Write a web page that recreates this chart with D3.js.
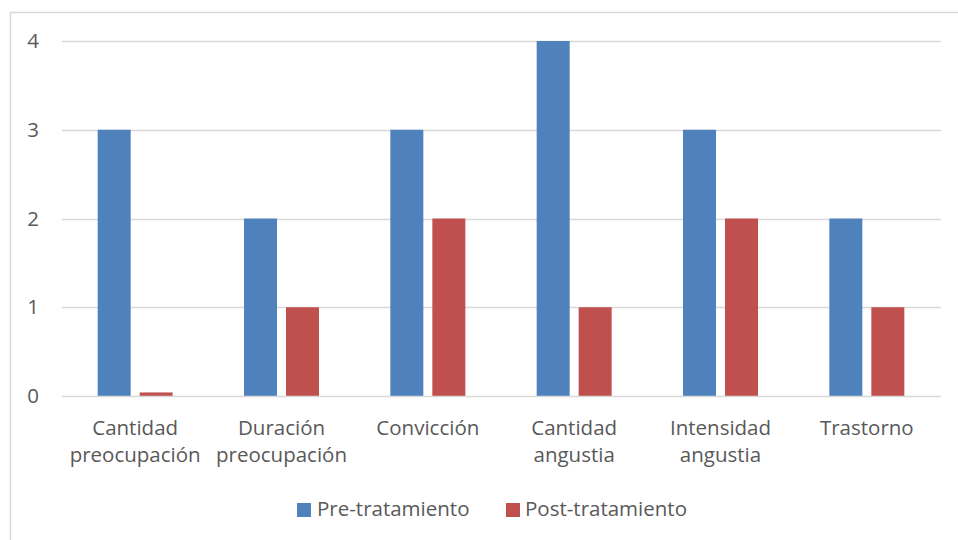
<!DOCTYPE html>
<html>
<head>
<meta charset="utf-8">
<script src="https://cdn.jsdelivr.net/npm/d3@7"></script>
<style>
  html, body { margin: 0; padding: 0; background: #fff; }
  svg { display: block; }
  text { font-family: "Open Sans", "Liberation Sans", sans-serif; fill: #595959; }
</style>
</head>
<body>
<svg id="chart" width="958" height="540"></svg>
<script>
const categories = [
  ["Cantidad", "preocupación"],
  ["Duración", "preocupación"],
  ["Convicción"],
  ["Cantidad", "angustia"],
  ["Intensidad", "angustia"],
  ["Trastorno"]
];
const seriesNames = ["Pre-tratamiento", "Post-tratamiento"];
const preValues = [3, 2, 3, 4, 3, 2];
const postValues = [0.04, 1, 2, 1, 2, 1];
const yTicks = [0, 1, 2, 3, 4];
const colors = ["#4f81bd", "#c0504d"];

const svg = d3.select("#chart");
const W = 958, H = 540;
const plot = { left: 62, right: 940, top: 41, bottom: 396 };

// chart frame
svg.append("rect")
  .attr("x", 10.5).attr("y", 12.5)
  .attr("width", W + 20).attr("height", H + 20)
  .attr("fill", "none").attr("stroke", "#d9d9d9").attr("stroke-width", 1.5);

const keys = categories.map((c, i) => "c" + i);
const x0 = d3.scaleBand().domain(keys).range([plot.left, plot.right]).padding(0);
const bw = x0.bandwidth();
const groupW = 75;
const x1 = d3.scaleBand().domain(seriesNames)
  .range([bw / 2 - groupW / 2, bw / 2 + groupW / 2])
  .paddingInner(0.214).paddingOuter(0);
const y = d3.scaleLinear().domain([0, 4]).range([plot.bottom, plot.top]);

// gridlines
svg.append("g").selectAll("line").data(yTicks.filter(d => d > 0)).join("line")
  .attr("x1", plot.left).attr("x2", plot.right + 1)
  .attr("y1", d => Math.round(y(d)) + 0.5).attr("y2", d => Math.round(y(d)) + 0.5)
  .attr("stroke", "#d9d9d9").attr("stroke-width", 1.3);

// bars
const rows = keys.map((k, i) => ({ key: k, vals: [preValues[i], postValues[i]] }));
const groups = svg.append("g").selectAll("g").data(rows).join("g")
  .attr("transform", d => `translate(${x0(d.key)},0)`);
groups.selectAll("rect").data(d => d.vals.map((v, j) => ({ s: seriesNames[j], v, j })))
  .join("rect")
  .attr("x", d => x1(d.s))
  .attr("width", x1.bandwidth())
  .attr("y", d => y(d.v))
  .attr("height", d => y(0) - y(d.v))
  .attr("fill", d => colors[d.j]);

// baseline
svg.append("line")
  .attr("x1", plot.left).attr("x2", plot.right + 1)
  .attr("y1", Math.round(y(0)) + 0.5).attr("y2", Math.round(y(0)) + 0.5)
  .attr("stroke", "#d9d9d9").attr("stroke-width", 1.5);

// y axis labels
svg.append("g").selectAll("text").data(yTicks).join("text")
  .attr("x", 39).attr("y", d => y(d))
  .attr("dy", "0.35em")
  .attr("text-anchor", "end")
  .attr("font-size", 20.5)
  .text(d => d);

// category labels
const catG = svg.append("g").selectAll("text").data(rows).join("text")
  .attr("text-anchor", "middle")
  .attr("font-size", 20.5)
  .attr("x", d => x0(d.key) + bw / 2)
  .attr("y", 435);
catG.selectAll("tspan").data((d, i) => categories[i]).join("tspan")
  .attr("x", function () { return d3.select(this.parentNode).attr("x"); })
  .attr("dy", (d, i) => i === 0 ? 0 : 27)
  .text(d => d);

// legend
const legendItems = [
  { name: seriesNames[0], color: colors[0], sx: 297, tx: 317 },
  { name: seriesNames[1], color: colors[1], sx: 506, tx: 525 }
];
const lg = svg.append("g").selectAll("g").data(legendItems).join("g");
lg.append("rect").attr("x", d => d.sx).attr("y", 503).attr("width", 14).attr("height", 14)
  .attr("fill", d => d.color);
lg.append("text").attr("x", d => d.tx).attr("y", 516).attr("font-size", 20.5)
  .text(d => d.name);
</script>
</body>
</html>
